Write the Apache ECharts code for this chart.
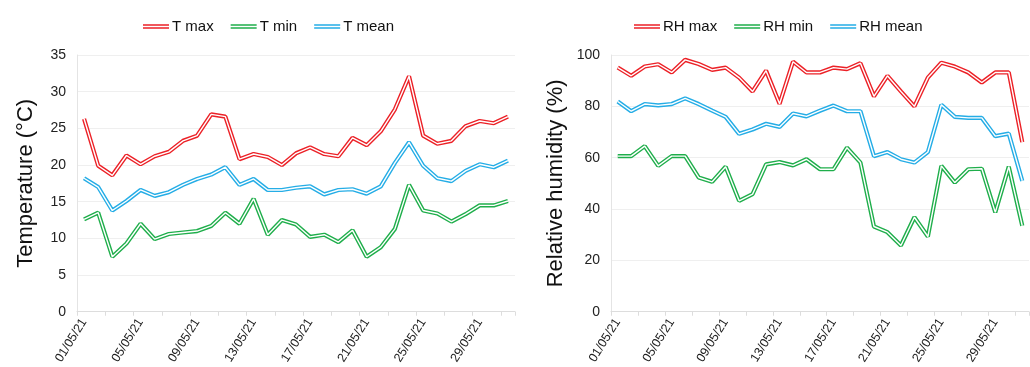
<!DOCTYPE html>
<html>
<head>
<meta charset="utf-8">
<script src="https://cdn.jsdelivr.net/npm/echarts@6/dist/echarts.min.js"></script>
<style>
  html, body { margin: 0; padding: 0; background: #fff; }
  #chart { width: 1030px; height: 367px; }
</style>
</head>
<body>
<div id="chart"></div>
<script>
// Daily dates, May 2021
const dates = [];
for (let d = 1; d <= 31; d++) dates.push((d < 10 ? '0' + d : '' + d) + '/05/21');

// Air temperature (°C)
const tMax  = [26.3, 19.9, 18.6, 21.3, 20.1, 21.2, 21.8, 23.3, 24.0, 26.9, 26.6, 20.8, 21.5, 21.1, 20.0, 21.6,
               22.4, 21.5, 21.2, 23.7, 22.7, 24.6, 27.6, 32.1, 24.0, 22.9, 23.3, 25.3, 26.0, 25.7, 26.6];
const tMean = [18.2, 17.0, 13.8, 15.1, 16.6, 15.8, 16.3, 17.3, 18.1, 18.7, 19.7, 17.3, 18.1, 16.6, 16.6, 16.9,
               17.1, 16.0, 16.6, 16.7, 16.1, 17.1, 20.3, 23.1, 19.9, 18.2, 17.8, 19.2, 20.1, 19.7, 20.6];
const tMin  = [12.6, 13.5, 7.5, 9.3, 12.0, 9.9, 10.6, 10.8, 11.0, 11.7, 13.5, 12.0, 15.4, 10.5, 12.5, 11.9,
               10.2, 10.5, 9.5, 11.1, 7.5, 8.8, 11.3, 17.3, 13.8, 13.4, 12.3, 13.3, 14.5, 14.5, 15.1];

// Relative humidity (%)
const rhMax  = [95.1, 91.9, 95.5, 96.4, 93.2, 98.1, 96.5, 94.2, 95.1, 91.2, 85.8, 93.9, 81.0, 97.4, 93.2, 93.2,
                95.1, 94.5, 96.8, 83.9, 91.9, 85.8, 80.0, 91.2, 97.0, 95.5, 93.2, 89.3, 93.2, 93.2, 66.1];
const rhMean = [81.9, 78.1, 80.9, 80.4, 80.9, 83.1, 80.9, 78.3, 75.9, 69.3, 71.0, 73.2, 72.0, 77.2, 76.1, 78.3,
                80.3, 78.1, 78.1, 60.6, 62.2, 59.4, 58.1, 62.2, 80.6, 75.9, 75.5, 75.5, 68.4, 69.4, 51.0];
const rhMin  = [60.6, 60.6, 64.5, 56.8, 60.6, 60.6, 52.3, 50.6, 56.5, 43.2, 45.8, 57.4, 58.3, 57.0, 59.4, 55.5,
                55.5, 63.9, 58.1, 33.2, 31.0, 25.8, 36.8, 29.3, 56.8, 50.3, 55.5, 55.7, 38.7, 56.5, 33.5];

const tTicks = { min: 0, max: 35, interval: 5 };
const rhTicks = { min: 0, max: 100, interval: 20 };

const RED = '#ec2127', GREEN = '#1fae4b', BLUE = '#25ade6';
const FONT = 'Liberation Sans, Arial, Helvetica, sans-serif';
const GRIDLINE = '#efefef';
const DOUBLE_ICON = 'path://M0,0H30V1.7H0Z M0,3.6H30V5.3H0Z';

// Each curve is a thick coloured stroke with a thin white stroke on top
function doubleLine(name, data, color, idx) {
  return [
    {
      name, type: 'line', data, xAxisIndex: idx, yAxisIndex: idx,
      symbol: 'none', color, z: 2,
      lineStyle: { color, width: 4.2 }, emphasis: { disabled: true }
    },
    {
      name: name + ' inner', type: 'line', data, xAxisIndex: idx, yAxisIndex: idx,
      symbol: 'none', silent: true, z: 3,
      lineStyle: { color: '#ffffff', width: 1.4 }, emphasis: { disabled: true }
    }
  ];
}

function xAxis(idx) {
  return {
    type: 'category', gridIndex: idx, data: dates, boundaryGap: true,
    axisLine: { lineStyle: { color: '#dddddd', width: 1 } },
    axisTick: { show: true, interval: 1, length: 4, lineStyle: { color: '#dddddd' } },
    axisLabel: { interval: 3, rotate: 58, fontSize: 12.5, color: '#222', fontFamily: FONT, margin: 8 }
  };
}

function yAxis(idx, ticks, name, gap) {
  return {
    type: 'value', gridIndex: idx, min: ticks.min, max: ticks.max, interval: ticks.interval,
    name, nameLocation: 'middle', nameGap: gap, nameRotate: 90,
    nameTextStyle: { fontSize: 22, color: '#111', fontFamily: FONT },
    axisLine: { show: true, lineStyle: { color: '#e4e4e4' } },
    axisTick: { show: false },
    axisLabel: { fontSize: 14, color: '#222', fontFamily: FONT, margin: 11 },
    splitLine: { lineStyle: { color: GRIDLINE, width: 1 } }
  };
}

function legend(names, leftX) {
  return {
    data: names.map(n => ({ name: n, icon: DOUBLE_ICON })),
    left: leftX, top: 14, orient: 'horizontal',
    itemWidth: 26, itemHeight: 5.3, itemGap: 17,
    textStyle: { fontSize: 15, color: '#111', fontFamily: FONT, padding: [0, 0, 0, -2] },
    selectedMode: false
  };
}

const chart = echarts.init(document.getElementById('chart'), null, { renderer: 'canvas' });

const option = {
  animation: false,
  backgroundColor: '#ffffff',
  legend: [
    legend(['T max', 'T min', 'T mean'], 138),
    legend(['RH max', 'RH min', 'RH mean'], 629)
  ],
  grid: [
    { left: 77, right: 515, top: 55, bottom: 54 },
    { left: 611, right: 1, top: 55, bottom: 54 }
  ],
  xAxis: [xAxis(0), xAxis(1)],
  yAxis: [
    yAxis(0, tTicks, 'Temperature (°C)', 40),
    yAxis(1, rhTicks, 'Relative humidity (%)', 44)
  ],
  series: [
    ...doubleLine('T max', tMax, RED, 0),
    ...doubleLine('T min', tMin, GREEN, 0),
    ...doubleLine('T mean', tMean, BLUE, 0),
    ...doubleLine('RH max', rhMax, RED, 1),
    ...doubleLine('RH min', rhMin, GREEN, 1),
    ...doubleLine('RH mean', rhMean, BLUE, 1)
  ]
};

chart.setOption(option);
</script>
</body>
</html>
